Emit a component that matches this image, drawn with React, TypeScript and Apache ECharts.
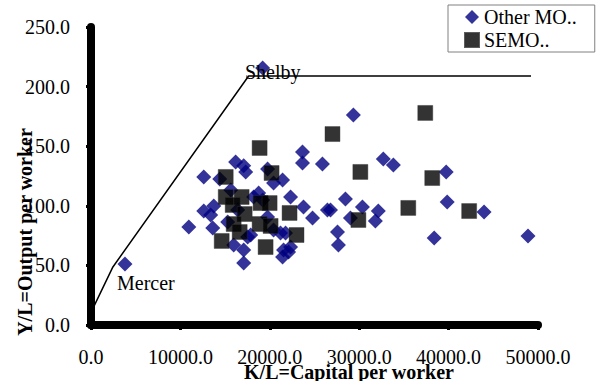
import React, { useEffect, useRef } from "react";
import * as echarts from "echarts";

const otherMO: [number, number][] = [
  [19200, 215.6], [29350, 176.2], [23660, 145.1], [23660, 135.9], [25890, 135.1],
  [32700, 139.3], [33820, 134.2], [39730, 128.4], [12610, 124.2], [14400, 122.5],
  [16180, 136.7], [17080, 133.5], [17300, 128.4], [19750, 130.9], [21430, 121.6],
  [20420, 119.1], [22320, 107.4], [23770, 99.0], [26450, 96.5], [24780, 89.8],
  [28460, 105.7], [30360, 99.0], [32140, 95.6], [31810, 87.2], [29020, 89.8],
  [39840, 103.2], [43970, 94.8], [27570, 78.0], [27680, 67.1], [38390, 73.0],
  [48880, 74.7], [12610, 95.6], [13730, 99.8], [13390, 92.3], [10940, 82.2],
  [13620, 81.4], [15290, 86.4], [15960, 67.1], [17080, 62.9], [17080, 52.0],
  [17860, 75.5], [21200, 77.2], [21540, 62.9], [21430, 57.0], [22320, 65.4],
  [3800, 51.2], [19200, 104.9], [19750, 90.6], [18190, 107.4], [20420, 79.7],
  [16410, 96.5], [15630, 113.3], [26790, 96.5], [17520, 73.8], [18750, 110.7],
  [22100, 61.2], [21760, 77.2],
];

const semo: [number, number][] = [
  [37390, 177.9], [27010, 160.2], [18860, 148.5], [30130, 128.4], [38170, 123.3],
  [15070, 124.2], [20200, 127.5], [35490, 98.2], [42300, 95.6], [29910, 88.1],
  [15070, 107.4], [16850, 107.4], [15850, 100.7], [18970, 102.3], [19980, 102.3],
  [17190, 93.1], [22210, 94.0], [15960, 84.7], [16630, 78.0], [18860, 84.7],
  [20090, 83.1], [14620, 70.5], [22990, 75.5], [19530, 65.4],
];

const frontier: [number, number][] = [
  [-1000, -5], [2450, 48.7], [17630, 208.9], [49220, 208.9],
];

const seriesNames = ["Other MO..", "SEMO.."];
const xTitle = "K/L=Capital per worker";
const yTitle = "Y/L=Output per worker";
const pointLabels = ["Shelby", "Mercer"];

const FONT = "Liberation Serif";
const AXIS_COLOR = "#000000";

export default function App() {
  const ref = useRef<HTMLDivElement>(null);
  useEffect(() => {
    if (!ref.current) return;
    const chart = echarts.init(ref.current, undefined, { renderer: "svg" });
    chart.setOption({
      animation: false,
      backgroundColor: "#ffffff",
      textStyle: { fontFamily: FONT },
      grid: { left: 91, right: 62, top: 27, bottom: 56, containLabel: false, outerBoundsMode: "none" },
      legend: {
        data: [
          { name: seriesNames[0], icon: "diamond", itemStyle: { color: "#000080" } },
          { name: seriesNames[1], icon: "rect", itemStyle: { color: "#000000" } },
        ],
        orient: "vertical",
        left: 448,
        top: 5,
        padding: [2, 18, 2, 16],
        itemWidth: 14,
        itemHeight: 14,
        itemGap: 3,
        borderColor: "#808080",
        borderWidth: 1,
        textStyle: { fontFamily: FONT, fontSize: 20, color: "#000" },
      },
      xAxis: {
        type: "value",
        min: 0,
        max: 50000,
        interval: 10000,
        splitLine: { show: false },
        axisLine: { show: true, onZero: false, lineStyle: { color: AXIS_COLOR, width: 8 } },
        axisTick: { show: true, length: 5, lineStyle: { color: AXIS_COLOR, width: 3 } },
        axisLabel: {
          margin: 22,
          fontFamily: FONT,
          fontSize: 20,
          color: "#000",
          formatter: (v: number) => v.toFixed(1),
        },
      },
      yAxis: {
        type: "value",
        min: 0,
        max: 250,
        interval: 50,
        splitLine: { show: false },
        axisLine: { show: true, onZero: false, lineStyle: { color: AXIS_COLOR, width: 8 } },
        axisTick: { show: true, length: 5, lineStyle: { color: AXIS_COLOR, width: 3 } },
        axisLabel: {
          margin: 21,
          fontFamily: FONT,
          fontSize: 20,
          color: "#000",
          formatter: (v: number) => v.toFixed(1),
        },
      },
      series: [
        {
          name: "frontier",
          type: "line",
          data: frontier,
          clip: false,
          symbol: "none",
          lineStyle: { color: "#000", width: 1.5 },
          z: 1,
        },
        {
          name: seriesNames[0],
          type: "scatter",
          data: otherMO,
          symbol: "diamond",
          symbolSize: 15,
          itemStyle: { color: "#000080" },
          z: 2,
        },
        {
          name: seriesNames[1],
          type: "scatter",
          data: semo,
          symbol: "rect",
          symbolSize: 15,
          itemStyle: { color: "#000000", borderColor: "#333", borderWidth: 0.5 },
          z: 3,
        },
      ],
      graphic: [
        {
          type: "text",
          x: 245,
          y: 72,
          z: 10,
          style: { text: pointLabels[0], font: `20px "${FONT}"`, fill: "#000", textVerticalAlign: "middle" },
        },
        {
          type: "text",
          x: 117,
          y: 283,
          z: 10,
          style: { text: pointLabels[1], font: `20px "${FONT}"`, fill: "#000", textVerticalAlign: "middle" },
        },
        {
          type: "text",
          x: 349,
          y: 372,
          z: 10,
          style: {
            text: xTitle,
            font: `bold 20px "${FONT}"`,
            fill: "#000",
            textAlign: "center",
            textVerticalAlign: "middle",
          },
        },
        {
          type: "text",
          x: 25,
          y: 232,
          rotation: Math.PI / 2,
          z: 10,
          style: {
            text: yTitle,
            font: `bold 20px "${FONT}"`,
            fill: "#000",
            textAlign: "center",
            textVerticalAlign: "middle",
          },
        },
      ],
    });
    return () => chart.dispose();
  }, []);
  return (
    <div
      ref={ref}
      style={{ position: "fixed", left: 0, top: 0, width: 600, height: 381, background: "#fff" }}
    />
  );
}
